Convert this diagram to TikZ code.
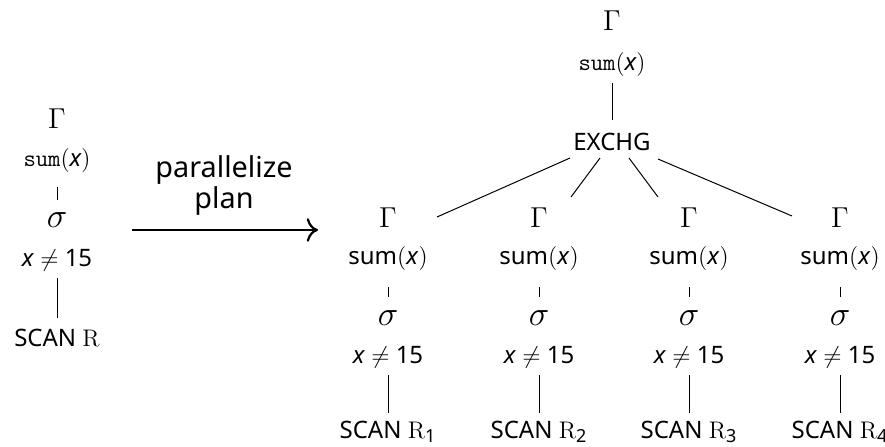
\documentclass[tikz,border=0pt]{standalone}
\usepackage[no-math]{fontspec}
\setmainfont{Noto Sans}
\usetikzlibrary{arrows.meta}
\newcommand{\subdig}[1]{\hbox{\fontsize{9}{10}\selectfont #1}}
\begin{document}
\begin{tikzpicture}[x=0.5pt,y=-0.5pt,
  lbl/.style={inner sep=0pt,anchor=base,font=\fontsize{12}{14}\selectfont},
  gam/.style={inner sep=0pt,anchor=base,font=\fontsize{14}{16}\selectfont},
  sig/.style={inner sep=0pt,anchor=base,font=\fontsize{19}{22}\selectfont},
  labtext/.style={inner sep=0pt,anchor=base,font=\fontsize{14.4}{16}\selectfont},
  edge/.style={line width=0.5pt},
  arr/.style={line width=1.1pt,-{To[scale=1.4]}}]
\useasboundingbox (0,0) rectangle (885,446);
% left tree
\node[gam] (lG) at (57,128) {$\Gamma$};
\node[lbl] (lsum) at (57,166) {$\texttt{sum}(\textit{x})$};
\node[sig] (lsig) at (57,227) {$\sigma$};
\node[lbl] (lcond) at (57,266) {\textit{x} $\neq$ 15};
\node[lbl] (lscan) at (57,346) {SCAN $\mathrm{R}$};
\draw[edge,shorten <=10.5pt,shorten >=13.5pt] (lsum.base) -- (lsig.base);
\draw[edge,shorten <=6pt,shorten >=14pt] (lcond.base) -- (lscan.base);
% arrow
\coordinate (a0) at (132,230);
\coordinate (a1) at (318,230);
\draw[arr] (a0) -- (a1);
\node[labtext] (lab1) at (224,177) {parallelize};
\node[labtext] (lab2) at (224,208) {plan};
% top tree
\node[gam] (tG) at (612,30) {$\Gamma$};
\node[lbl] (tsum) at (612,70) {$\texttt{sum}(\textit{x})$};
\node[lbl] (ex) at (612,150) {EXCHG};
\draw[edge,shorten <=6.5pt,shorten >=15pt] (tsum.base) -- (ex.base);
% subtrees
\foreach \i/\xx in {1/388,2/539,3/689,4/840}{
  \node[gam] (g\i) at (\xx,227) {$\Gamma$};
  \node[lbl] (s\i) at (\xx,264) {sum$($\textit{x}$)$};
  \node[sig] (sg\i) at (\xx,325) {$\sigma$};
  \node[lbl] (c\i) at (\xx,363) {\textit{x} $\neq$ 15};
  \node[lbl] (r\i) at (\xx,438) {SCAN $\mathrm{R}_{\subdig{\i}}$};
  \draw[edge,shorten <=11.5pt,shorten >=14pt] (s\i.base) -- (sg\i.base);
  \draw[edge,shorten <=6pt,shorten >=12.5pt] (c\i.base) -- (r\i.base);
}
\coordinate (e1) at ([shift={(49,-10)}]g1.base);
\coordinate (e2) at ([shift={(32,-30)}]g2.base);
\coordinate (e3) at ([shift={(-31,-30)}]g3.base);
\coordinate (e4) at ([shift={(-48,-11)}]g4.base);
\draw[edge] ([shift={(-42,8)}]ex.base) -- (e1);
\draw[edge] ([shift={(-12,8)}]ex.base) -- (e2);
\draw[edge] ([shift={(17,8)}]ex.base) -- (e3);
\draw[edge] ([shift={(46,9)}]ex.base) -- (e4);
\end{tikzpicture}
\end{document}
